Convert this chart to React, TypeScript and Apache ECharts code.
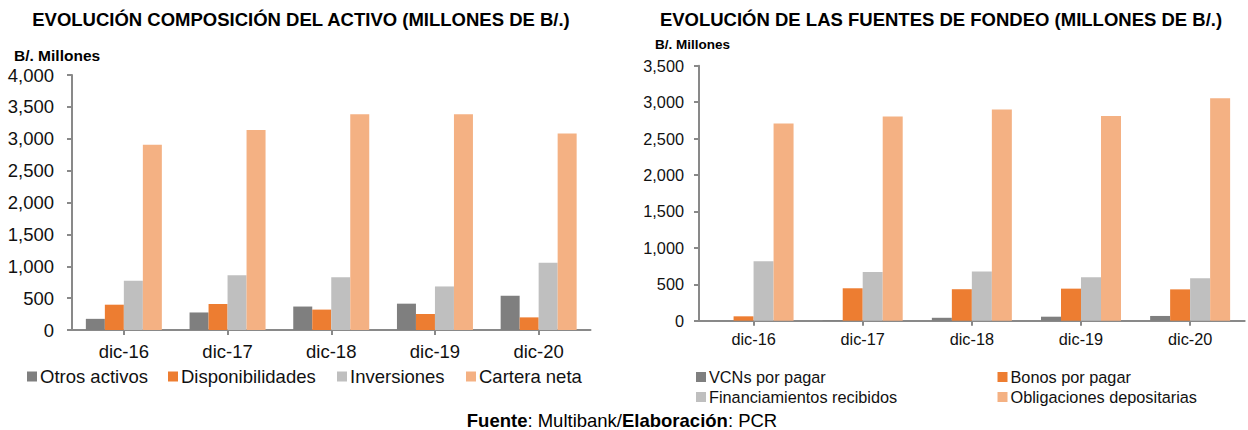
import React, { useEffect, useRef } from "react";
import * as echarts from "echarts";

const categories = ["dic-16", "dic-17", "dic-18", "dic-19", "dic-20"];

// Left chart: Evolución composición del activo
const otrosActivos = [175, 275, 368, 413, 536];
const disponibilidades = [397, 408, 320, 251, 198];
const inversiones = [774, 857, 826, 683, 1056];
const carteraNeta = [2905, 3137, 3383, 3385, 3082];

// Right chart: Evolución de las fuentes de fondeo
const vcnsPorPagar = [1, 8, 40, 55, 65];
const bonosPorPagar = [60, 445, 432, 440, 430];
const financiamientos = [815, 668, 677, 595, 582];
const obligaciones = [2705, 2802, 2900, 2810, 3052];

const leftAxisMax = 4000;
const rightAxisMax = 3500;
const axisStep = 500;

const FONT = '"Liberation Sans", Arial, sans-serif';
const C_GRAY = "#7f7f7f";
const C_ORANGE = "#ed7d31";
const C_LGRAY = "#bfbfbf";
const C_PEACH = "#f4b183";
const AXIS = "#898989";

export default function App() {
  const ref = useRef<HTMLDivElement>(null);

  useEffect(() => {
    if (!ref.current) return;
    const chart = echarts.init(ref.current, null, { renderer: "svg" });
    const fmt = (v: number) => v.toLocaleString("en-US");

    const mkY = (gridIndex: number, max: number, fs: number, margin: number) => ({
      type: "value",
      gridIndex,
      min: 0,
      max,
      interval: axisStep,
      axisLine: { show: true, lineStyle: { color: AXIS, width: 2 } },
      axisTick: { show: true, length: 5, lineStyle: { color: AXIS, width: 2 } },
      splitLine: { show: false },
      axisLabel: { formatter: fmt, fontFamily: FONT, fontSize: fs, color: "#111", margin },
    });
    const mkX = (gridIndex: number, fs: number, margin: number) => ({
      type: "category",
      gridIndex,
      data: categories,
      axisLine: { show: true, lineStyle: { color: AXIS, width: 2 } },
      axisTick: { show: true, alignWithLabel: true, length: 5, lineStyle: { color: AXIS, width: 2 } },
      axisLabel: { fontFamily: FONT, fontSize: fs, color: "#111", margin },
    });
    const bar = (name: string, data: number[], color: string, idx: number, w: number) => ({
      name,
      type: "bar",
      xAxisIndex: idx,
      yAxisIndex: idx,
      data,
      barWidth: w,
      barGap: "0%",
      itemStyle: { color },
    });
    const leg = (name: string, left: number, top: number, fs: number) => ({
      data: [name],
      left,
      top,
      orient: "horizontal",
      itemWidth: 10,
      itemHeight: 10,
      icon: "rect",
      padding: 0,
      textStyle: { fontFamily: FONT, fontSize: fs, color: "#111", padding: [0, 0, 0, -2] },
    });

    chart.setOption({
      animation: false,
      backgroundColor: "#fff",
      grid: [
        { left: 72, top: 75, width: 518.5, height: 255 },
        { left: 699, top: 65.7, width: 545.7, height: 255 },
      ],
      xAxis: [mkX(0, 18.5, 12), mkX(1, 16.3, 10)],
      yAxis: [mkY(0, leftAxisMax, 18.5, 18), mkY(1, rightAxisMax, 16.3, 15)],
      legend: [
        leg("Otros activos", 27, 367, 18.5),
        leg("Disponibilidades", 168, 367, 18.5),
        leg("Inversiones", 337, 367, 18.5),
        leg("Cartera neta", 466, 367, 18.5),
        leg("VCNs por pagar", 696, 369, 16.3),
        leg("Bonos por pagar", 997.5, 369, 16.3),
        leg("Financiamientos recibidos", 696, 389, 16.3),
        leg("Obligaciones depositarias", 997.5, 389, 16.3),
      ],
      series: [
        bar("Otros activos", otrosActivos, C_GRAY, 0, 19),
        bar("Disponibilidades", disponibilidades, C_ORANGE, 0, 19),
        bar("Inversiones", inversiones, C_LGRAY, 0, 19),
        bar("Cartera neta", carteraNeta, C_PEACH, 0, 19),
        bar("VCNs por pagar", vcnsPorPagar, C_GRAY, 1, 20),
        bar("Bonos por pagar", bonosPorPagar, C_ORANGE, 1, 20),
        bar("Financiamientos recibidos", financiamientos, C_LGRAY, 1, 20),
        bar("Obligaciones depositarias", obligaciones, C_PEACH, 1, 20),
      ],
      graphic: [
        {
          type: "text",
          x: 301,
          y: 19,
          style: {
            text: "EVOLUCIÓN COMPOSICIÓN DEL ACTIVO (MILLONES DE B/.)",
            font: `bold 18.5px ${FONT}`,
            fill: "#000",
            textAlign: "center",
            textVerticalAlign: "middle",
          },
        },
        {
          type: "text",
          x: 941,
          y: 19,
          style: {
            text: "EVOLUCIÓN DE LAS FUENTES DE FONDEO (MILLONES DE B/.)",
            font: `bold 18.5px ${FONT}`,
            fill: "#000",
            textAlign: "center",
            textVerticalAlign: "middle",
          },
        },
        {
          type: "text",
          x: 14,
          y: 55,
          style: {
            text: "B/. Millones",
            font: `bold 15.5px ${FONT}`,
            fill: "#000",
            textAlign: "left",
            textVerticalAlign: "middle",
          },
        },
        {
          type: "text",
          x: 655,
          y: 44,
          style: {
            text: "B/. Millones",
            font: `bold 13.5px ${FONT}`,
            fill: "#000",
            textAlign: "left",
            textVerticalAlign: "middle",
          },
        },
        {
          type: "text",
          x: 622,
          y: 420.5,
          style: {
            text: "{b|Fuente}{r|: Multibank/}{b|Elaboración}{r|: PCR}",
            textAlign: "center",
            textVerticalAlign: "middle",
            rich: {
              b: { fontFamily: FONT, fontSize: 18.5, fontWeight: "bold", fill: "#000" },
              r: { fontFamily: FONT, fontSize: 18.5, fill: "#000" },
            },
          },
        },
      ],
    });
    return () => chart.dispose();
  }, []);

  return (
    <div
      ref={ref}
      style={{ position: "fixed", left: 0, top: 0, width: 1248, height: 430, background: "#fff" }}
    />
  );
}
